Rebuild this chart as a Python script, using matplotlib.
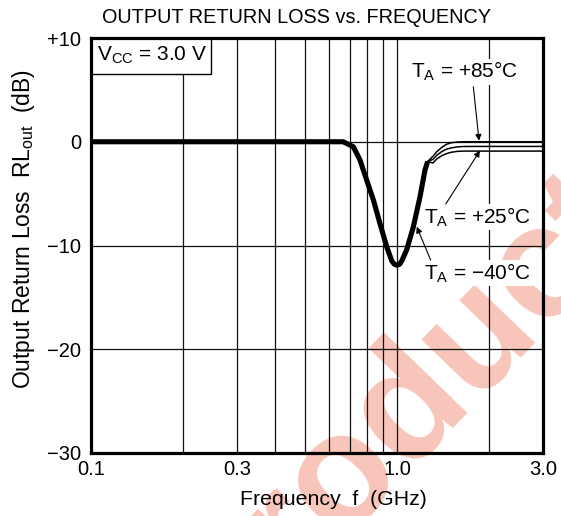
import numpy as np
import matplotlib
matplotlib.use("Agg")
import matplotlib.pyplot as plt
from matplotlib.patches import Rectangle

plt.rcParams['font.family'] = ['Liberation Sans', 'DejaVu Sans']
plt.rcParams['mathtext.fontset'] = 'custom'
plt.rcParams['mathtext.rm'] = 'Liberation Sans'
plt.rcParams['mathtext.it'] = 'Liberation Sans:italic'
plt.rcParams['mathtext.bf'] = 'Liberation Sans:bold'

# ---- data ----
freq_ghz = [0.1, 0.3, 0.6, 0.667, 0.72, 0.757, 0.796, 0.837, 0.879, 0.925, 0.962,
            0.98, 1.0, 1.02, 1.036, 1.076, 1.131, 1.189, 1.235, 1.26,
            1.31, 1.35, 1.40, 1.45, 1.50, 1.57, 1.65, 1.8, 2.0, 3.0]
rl_85 = [0, 0, 0, 0, -0.48, -1.76, -3.7, -5.6, -7.85, -10.1, -11.5,
         -11.8, -11.9, -11.8, -11.5, -10.4, -8.2, -5.3, -2.7, -1.9,
         -1.4, -0.95, -0.55, -0.25, -0.1, -0.03, 0, 0, 0, 0]
rl_m40 = [0, 0, 0, 0, -0.48, -1.76, -3.7, -5.6, -7.85, -10.1, -11.5,
          -11.8, -11.9, -11.8, -11.5, -10.4, -8.2, -5.3, -2.7, -1.9,
          -1.7, -1.3, -0.95, -0.72, -0.6, -0.5, -0.46, -0.45, -0.45, -0.45]
rl_25 = [0, 0, 0, 0, -0.48, -1.76, -3.7, -5.6, -7.85, -10.1, -11.5,
         -11.8, -11.9, -11.8, -11.5, -10.4, -8.2, -5.3, -2.7, -1.9,
         -2.05, -1.65, -1.35, -1.15, -1.02, -0.93, -0.9, -0.9, -0.9, -0.9]

x_ticks = [0.1, 0.3, 1.0, 3.0]
x_ticklabels = ['0.1', '0.3', '1.0', '3.0']
x_grid_minor = [0.2, 0.4, 0.5, 0.6, 0.7, 0.8, 0.9, 2.0]
y_ticks = [-30, -20, -10, 0, 10]
y_ticklabels = ['\u221230', '\u221220', '\u221210', '0', '+10']

labels = ['T$_{\\rm A}$ = +85\u00b0C', 'T$_{\\rm A}$ = +25\u00b0C', 'T$_{\\rm A}$ = \u221240\u00b0C']
label_pos = [(1.667, 6.75), (1.834, -7.25), (1.834, -12.65)]
arrow_tail = [(1.776, 5.3), (1.443, -6.0), (1.288, -11.4)]
arrow_head = [(1.854, 0.1), (1.867, -0.86), (1.16, -8.19)]

W, H = 561, 516
fig = plt.figure(figsize=(W / 100, H / 100), dpi=100)
ax = fig.add_axes([91 / W, 1 - 453 / H, 452 / W, 415 / H])

# watermark
ax.text(400 / W, 1 - 413 / H, 'Product', transform=fig.transFigure, rotation=46,
        rotation_mode='anchor', ha='center', va='center', fontsize=115,
        fontweight='bold', color='#F7C5B9', zorder=0.2, clip_on=False)

f = np.array(freq_ghz)
series = [np.array(rl_85), np.array(rl_m40), np.array(rl_25)]
for s in series:
    ax.plot(f, s, color='black', lw=1.1, zorder=4, solid_capstyle='butt')
common = (series[0] == series[1]) & (series[1] == series[2])
ax.plot(f[common], series[0][common], color='black', lw=3.7, zorder=5,
        solid_capstyle='butt', solid_joinstyle='round')

ax.set_xscale('log')
ax.set_xlim(0.1, 3.0)
ax.set_ylim(-30, 10)
ax.set_xticks(x_ticks)
ax.set_xticklabels(x_ticklabels)
ax.set_xticks(x_grid_minor, minor=True)
ax.set_xticklabels([], minor=True)
ax.set_yticks(y_ticks)
ax.set_yticklabels(y_ticklabels)
ax.tick_params(which='both', length=0, labelsize=14.5, colors='black')
ax.tick_params(axis='x', pad=5)
ax.tick_params(axis='y', pad=7)
ax.grid(which='both', axis='x', color='#111111', lw=0.9)
ax.grid(which='major', axis='y', color='#111111', lw=0.9)
for sp in ax.spines.values():
    sp.set_linewidth(2.3)
    sp.set_zorder(6)

# Vcc box
ax.add_patch(Rectangle((0, 1 - 35.5 / 415), 119.7 / 452, 35.5 / 415, transform=ax.transAxes,
                       facecolor='white', edgecolor='black', lw=1.0, zorder=3, clip_on=False))
ax.text(6 / 452, 1 - 17.5 / 415, 'V$_{\\rm CC}$ = 3.0 V', transform=ax.transAxes,
        ha='left', va='center', fontsize=15, zorder=3.5)

for lab, pos, tail, head in zip(labels, label_pos, arrow_tail, arrow_head):
    ax.text(pos[0], pos[1], lab, ha='center', va='center', fontsize=15, zorder=3,
            bbox=dict(facecolor='white', edgecolor='none', pad=1.0))
    ax.annotate('', xy=head, xytext=tail,
                arrowprops=dict(arrowstyle='-|>', color='black', lw=0.8,
                                mutation_scale=9, shrinkA=0, shrinkB=0), zorder=4)

fig.text(297 / W, 1 - 23 / H, 'OUTPUT RETURN LOSS vs. FREQUENCY', ha='center',
         va='baseline', fontsize=14.3)
fig.text(333.5 / W, 1 - 505 / H, 'Frequency  f  (GHz)', ha='center', va='baseline',
         fontsize=15.3)
fig.text(24 / W, 1 - 229.5 / H, 'Output Return Loss  RL$_{\\rm out}$  (dB)', ha='center',
         va='center', rotation=90, fontsize=16.5)

fig.savefig('out.png', dpi=100)
